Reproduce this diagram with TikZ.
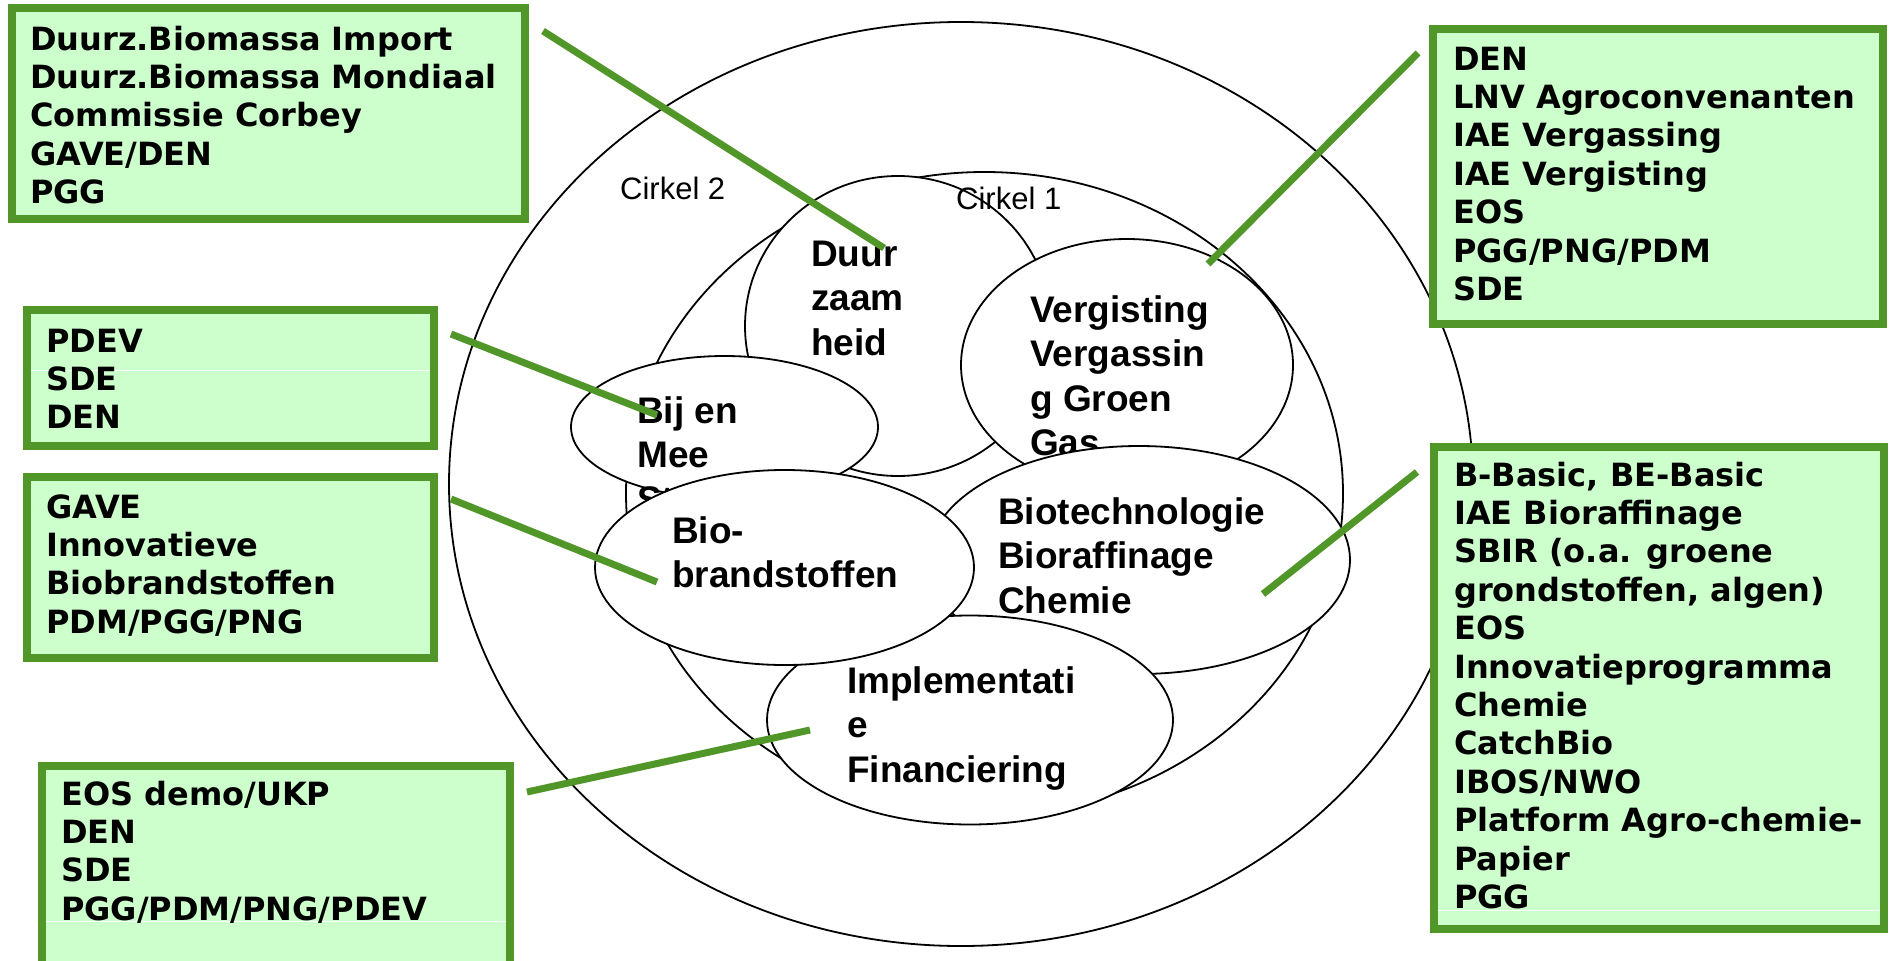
\documentclass[tikz,border=0pt]{standalone}
\usepackage{fontspec}
\usetikzlibrary{shapes.geometric}
\newfontfamily\boxfont{DejaVu Sans}
\newfontfamily\elfont{Liberation Sans}
\definecolor{boxgreen}{RGB}{80,150,40}
\definecolor{boxfill}{RGB}{204,255,204}
\newcommand\stk[1]{\begin{tabular}[t]{@{}l@{}}#1\end{tabular}}
\begin{document}
\begin{tikzpicture}[x=1pt,y=-1pt,
  ell/.style={ellipse, draw=black, line width=1.8pt, fill=white, inner sep=0pt, outer sep=0pt},
  eltext/.style={anchor=base west, inner sep=0pt, font=\elfont\bfseries\fontsize{37}{44.5}\selectfont},
  lbl/.style={anchor=base west, inner sep=0pt, font=\elfont\fontsize{31}{37}\selectfont},
  infobox/.style={rectangle, draw=boxgreen, fill=boxfill, line width=8pt, inner sep=0pt, outer sep=0pt},
  boxtext/.style={anchor=base west, inner sep=0pt, font=\boxfont\bfseries\fontsize{32}{38.4}\selectfont},
  artifact/.style={draw=white, line width=0.8pt},
  conn/.style={draw=boxgreen, line width=7pt}]
\useasboundingbox (0,0) rectangle (1890,961);
\fill[white] (0,0) rectangle (1890,961);

% Cirkel 2 (outer)
\node[ell, minimum width=1024pt, minimum height=924pt] (outer) at (961,484) {};
\node[lbl] (lc2) at (620,199) {Cirkel 2};
% Cirkel 1 (middle)
\node[ell, minimum width=717pt, minimum height=643pt] (middle) at (984.5,493.5) {};
% Duurzaamheid
\node[ell, minimum width=306pt, minimum height=300pt] (duurz) at (898,326) {};
\node[eltext] (tduurz) at (811,266) {\stk{Duur\\zaam\\heid}};
\node[lbl] (lc1) at (956,209) {Cirkel 1};
% Vergisting
\node[ell, minimum width=332pt, minimum height=252pt] (verg) at (1127,365) {};
\node[eltext] (tverg) at (1030,322) {\stk{Vergisting\\Vergassin\\g Groen\\Gas}};
% Bij en Mee
\node[ell, minimum width=307pt, minimum height=142pt] (bij) at (724.5,427) {};
\node[eltext] (tbij) at (637,423) {\stk{Bij en\\Mee\\Stook}};
% Biotechnologie
\node[ell, minimum width=422pt, minimum height=228pt] (biotech) at (1139,560) {};
\node[eltext] (tbiotech) at (998,524) {\stk{Biotechnologie\\Bioraffinage\\Chemie}};
% Implementatie
\node[ell, minimum width=406pt, minimum height=209pt] (impl) at (970,720) {};
\node[eltext] (timpl) at (847,693) {\stk{Implementati\\e\\Financiering}};
% Biobrandstoffen
\node[ell, minimum width=379pt, minimum height=195pt] (bio) at (784.5,567.5) {};
\node[eltext] (tbio) at (672,543) {\stk{Bio-\\brandstoffen}};

% Boxes
\node[infobox, minimum width=513pt, minimum height=211pt] (b1) at (268.5,113.5) {};
\node[boxtext] (tb1) at (30,50) {\stk{Duurz.Biomassa Import\\Duurz.Biomassa Mondiaal\\Commissie Corbey\\GAVE/DEN\\PGG}};

\node[infobox, minimum width=450pt, minimum height=295pt] (b2) at (1658,176.5) {};
\node[boxtext] (tb2) at (1453,70) {\stk{DEN\\LNV Agroconvenanten\\IAE Vergassing\\IAE Vergisting\\EOS\\PGG/PNG/PDM\\SDE}};

\node[infobox, minimum width=407pt, minimum height=136pt] (b3) at (230.5,378) {};
\draw[artifact] (31,370) -- (430,370);
\node[boxtext] (tb3) at (46,352) {\stk{PDEV\\SDE\\DEN}};

\node[infobox, minimum width=407pt, minimum height=181pt] (b4) at (230.5,567.5) {};
\node[boxtext] (tb4) at (46,518) {\stk{GAVE\\Innovatieve\\Biobrandstoffen\\PDM/PGG/PNG}};

\node[infobox, minimum width=450pt, minimum height=482pt] (b5) at (1659,688) {};
\draw[artifact] (1438,910) -- (1880,910);
\node[boxtext] (tb5) at (1454,486) {\stk{B-Basic, BE-Basic\\IAE Bioraffinage\\SBIR (o.a. groene\\grondstoffen, algen)\\EOS\\Innovatieprogramma\\Chemie\\CatchBio\\IBOS/NWO\\Platform Agro-chemie-\\Papier\\PGG}};

\node[infobox, minimum width=468pt, minimum height=205pt] (b6) at (276,868.5) {};
\draw[artifact] (46,921) -- (506,921);
\node[boxtext] (tb6) at (61,805) {\stk{EOS demo/UKP\\DEN\\SDE\\PGG/PDM/PNG/PDEV}};

% Connectors
\coordinate (c1a) at (543,31);   \coordinate (c1b) at (884,248);
\coordinate (c2a) at (1418,53);  \coordinate (c2b) at (1208,264);
\coordinate (c3a) at (451,334);  \coordinate (c3b) at (657,415);
\coordinate (c4a) at (451,499);  \coordinate (c4b) at (657,582);
\coordinate (c5a) at (1417,472); \coordinate (c5b) at (1263,594);
\coordinate (c6a) at (527,792);  \coordinate (c6b) at (810,730);
\draw[conn] (c1a) -- (c1b);
\draw[conn] (c2a) -- (c2b);
\draw[conn] (c3a) -- (c3b);
\draw[conn] (c4a) -- (c4b);
\draw[conn] (c5a) -- (c5b);
\draw[conn] (c6a) -- (c6b);
\end{tikzpicture}
\end{document}
